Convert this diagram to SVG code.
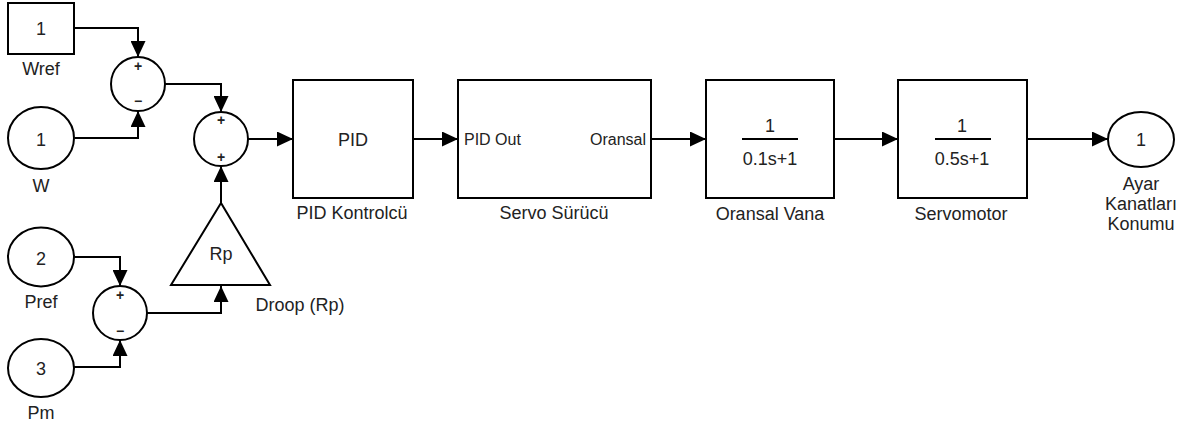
<svg xmlns="http://www.w3.org/2000/svg" width="1186" height="425" viewBox="0 0 1186 425">
<style>
text{font-family:"Liberation Sans",Arial,sans-serif;font-size:18px;fill:#222;text-anchor:middle}
.port{font-size:16px}
.sign{font-size:14px;font-weight:bold}
.blk{fill:#fff;stroke:#000;stroke-width:2}
.wire{fill:none;stroke:#000;stroke-width:2;marker-end:url(#arr)}
.frac{stroke:#000;stroke-width:2}
</style>
<defs>
<marker id="arr" markerUnits="userSpaceOnUse" markerWidth="16" markerHeight="15" refX="16" refY="7.5" orient="auto">
<path d="M0,0 L16,7.5 L0,15 z" fill="#000"/>
</marker>
</defs>
<g id="connectors">
<path class="wire" d="M74,28 H138 V57"/>
<path class="wire" d="M75,138 H138 V111"/>
<path class="wire" d="M165,84 H221 V112"/>
<path class="wire" d="M248,139 H293"/>
<path class="wire" d="M221,203 V166"/>
<path class="wire" d="M74,257 H120 V286"/>
<path class="wire" d="M74,367 H120 V340"/>
<path class="wire" d="M147,313 H221 V286"/>
<path class="wire" d="M413,139 H458"/>
<path class="wire" d="M651,139 H706"/>
<path class="wire" d="M834,139 H898"/>
<path class="wire" d="M1027,139 H1108"/>
</g>
<g id="wref">
<rect class="blk" x="8" y="3" width="66" height="51"/>
<text x="41" y="35">1</text>
<text x="41" y="75">Wref</text>
</g>
<g id="w">
<ellipse class="blk" cx="41" cy="138" rx="33" ry="31"/>
<text x="41" y="146">1</text>
<text x="41" y="192">W</text>
</g>
<g id="pref">
<ellipse class="blk" cx="41" cy="257" rx="33" ry="29.5"/>
<text x="41" y="265">2</text>
<text x="41" y="308">Pref</text>
</g>
<g id="pm">
<ellipse class="blk" cx="41" cy="368" rx="33" ry="29"/>
<text x="41" y="375">3</text>
<text x="41" y="419">Pm</text>
</g>
<g id="sum1">
<circle class="blk" cx="138" cy="84" r="27"/>
<text class="sign" x="138" y="71">+</text>
<text class="sign" x="138" y="106">−</text>
</g>
<g id="sum2">
<circle class="blk" cx="221" cy="139" r="27"/>
<text class="sign" x="221" y="125">+</text>
<text class="sign" x="221" y="162">+</text>
</g>
<g id="sum3">
<circle class="blk" cx="120" cy="313" r="27"/>
<text class="sign" x="120" y="300">+</text>
<text class="sign" x="120" y="336">−</text>
</g>
<g id="droop">
<polygon class="blk" points="221,203 171,285 270,285"/>
<text x="221" y="260">Rp</text>
<text x="300" y="311">Droop (Rp)</text>
</g>
<g id="pid">
<rect class="blk" x="293" y="80" width="120" height="118"/>
<text x="353" y="146">PID</text>
<text x="352" y="219">PID Kontrolcü</text>
</g>
<g id="servo">
<rect class="blk" x="458" y="80" width="193" height="118"/>
<text class="port" x="464" y="145" style="text-anchor:start">PID Out</text>
<text class="port" x="646" y="145" style="text-anchor:end">Oransal</text>
<text x="554" y="219">Servo Sürücü</text>
</g>
<g id="vana">
<rect class="blk" x="706" y="80" width="128" height="118"/>
<text x="770" y="132">1</text>
<line class="frac" x1="742" y1="139" x2="798" y2="139"/>
<text x="770" y="165">0.1s+1</text>
<text x="770" y="220">Oransal Vana</text>
</g>
<g id="servomotor">
<rect class="blk" x="898" y="80" width="129" height="118"/>
<text x="962" y="132">1</text>
<line class="frac" x1="935" y1="139" x2="991" y2="139"/>
<text x="962" y="165">0.5s+1</text>
<text x="961" y="220">Servomotor</text>
</g>
<g id="out">
<ellipse class="blk" cx="1141" cy="139.5" rx="33" ry="27.5"/>
<text x="1141" y="146">1</text>
<text x="1141" y="190">Ayar</text>
<text x="1141" y="210">Kanatları</text>
<text x="1141" y="230">Konumu</text>
</g>
</svg>
